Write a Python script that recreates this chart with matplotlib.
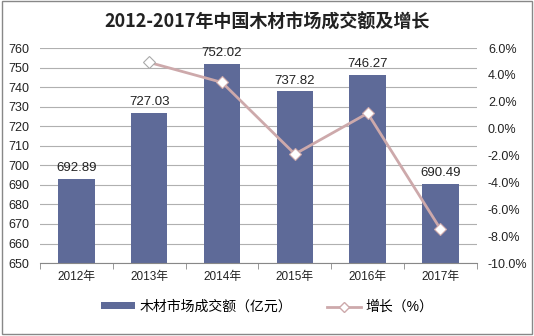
import matplotlib

matplotlib.use("Agg")

import matplotlib.pyplot as plt
from matplotlib.lines import Line2D
from matplotlib.patches import Patch, Rectangle

plt.rcParams["font.family"] = ["Liberation Sans", "Noto Sans CJK SC", "DejaVu Sans"]

years = ["2012年", "2013年", "2014年", "2015年", "2016年", "2017年"]
turnover = [692.89, 727.03, 752.02, 737.82, 746.27, 690.49]
growth = [None, 4.93, 3.44, -1.89, 1.15, -7.47]

bar_color = "#5e6a98"
line_color = "#cda9ab"
text_color = "#222222"

fig = plt.figure(figsize=(5.34, 3.36), dpi=100)
fig.patches.append(
    Rectangle((0.004, 0.006), 0.992, 0.99, transform=fig.transFigure,
              fill=False, edgecolor="#888888", linewidth=1.0)
)
ax = fig.add_axes([0.075, 0.217, 0.818, 0.640])
x = list(range(len(years)))

ax.bar(x, [v - 650 for v in turnover], bottom=650, width=0.5,
       color=bar_color, zorder=2)
for xi, v in zip(x, turnover):
    ax.text(xi, v + 2.5, f"{v:.2f}", ha="center", va="bottom",
            fontsize=9.5, color=text_color)

ax.set_ylim(650, 760)
ax.set_yticks(range(650, 761, 10))
ax.set_xlim(-0.5, len(years) - 0.5)
ax.set_xticks(x)
ax.set_xticklabels(years, fontsize=8.5, color=text_color)
ax.tick_params(axis="y", length=0, labelsize=9, labelcolor=text_color, pad=8)
ax.tick_params(axis="x", length=0, pad=6)
ax.set_xticks([i + 0.5 for i in range(-1, len(years))], minor=True)
ax.tick_params(axis="x", which="minor", length=4, color="#888888")
ax.grid(axis="y", color="#b0b0b0", linewidth=0.8, zorder=0)
for side in ("top", "left", "right"):
    ax.spines[side].set_visible(False)
ax.spines["bottom"].set_color("#888888")

ax2 = ax.twinx()
gx = [xi for xi, g in zip(x, growth) if g is not None]
gy = [g for g in growth if g is not None]
ax2.plot(gx, gy, color=line_color, linewidth=2, zorder=3)
ax2.plot(gx[:1], gy[:1], marker="D", markersize=6, markerfacecolor="white",
         markeredgecolor="#aaaaaa", markeredgewidth=0.8, linestyle="none", zorder=4)
ax2.plot(gx[1:], gy[1:], marker="D", markersize=6, markerfacecolor="white",
         markeredgecolor=line_color, markeredgewidth=0.8, linestyle="none", zorder=4)
ax2.set_ylim(-10, 6)
ax2.set_yticks(range(-10, 7, 2))
ax2.set_yticklabels([f"{t:.1f}%" for t in range(-10, 7, 2)])
ax2.tick_params(axis="y", length=0, labelsize=9, labelcolor=text_color, pad=8)
for side in ("top", "left", "right", "bottom"):
    ax2.spines[side].set_visible(False)

fig.text(0.5, 0.935, "2012-2017年中国木材市场成交额及增长", ha="center", va="center",
         fontsize=13, fontweight="bold", color=text_color,
         family=["Noto Sans CJK SC", "DejaVu Sans"])

handles = [
    Patch(facecolor=bar_color, label="木材市场成交额（亿元）"),
    Line2D([0], [0], color=line_color, linewidth=2, marker="D", markersize=5,
           markerfacecolor="white", markeredgecolor=line_color, label="增长（%）"),
]
fig.legend(handles=handles, loc="center", bbox_to_anchor=(0.5, 0.087), ncol=2,
           frameon=False, fontsize=10, handlelength=2.5, handleheight=0.4,
           columnspacing=2.5, handletextpad=0.3)

fig.savefig("out.png", dpi=100)
plt.close(fig)
